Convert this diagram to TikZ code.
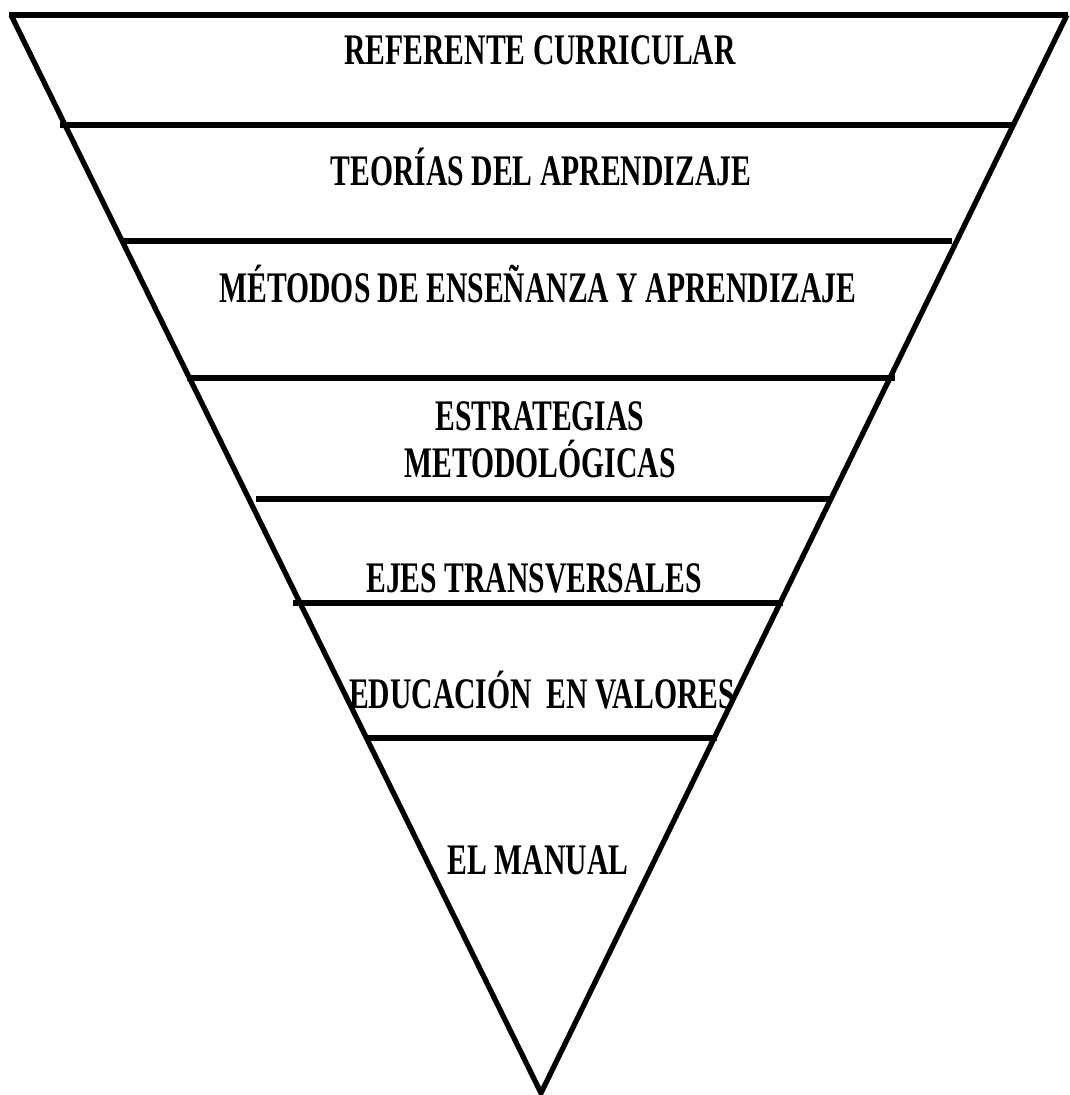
\documentclass[tikz,border=0pt]{standalone}
\usepackage{fontspec}
\setmainfont{Liberation Serif}
\newfontfamily\condserif[FakeStretch=0.68]{Liberation Serif}
\usepackage{tikz}

\tikzset{
	capa/.style={line width=1.7pt},
	borde/.style={line width=1.5pt, line join=miter},
	rotulo/.style={font=\condserif\bfseries\fontsize{12.4}{13.4}\selectfont, align=center, inner sep=0pt}
}

\begin{document}
\begin{tikzpicture}[x=0.01cm, y=-0.01cm]
				\useasboundingbox (0,0) rectangle (1069,1095);
				% contorno
				\draw[borde](11,15) -- (541,1093) -- (1067,15);
				\draw[capa](9,15) -- (1068,15);
				
				% separaciones
				\draw[capa](60,125) -- (1014,125);
				\draw[capa](122,241) -- (952,241);
				\draw[capa](187,378) -- (895,378);
				\draw[capa](256,499) -- (832,499);
				\draw[capa](293,603) -- (783,603);
				\draw[capa](366,738) -- (717,738);
				
				% textos
				\node[rotulo] (referente) at (540,50) {REFERENTE CURRICULAR};
				\node[rotulo] (teorias) at (541,167) {TEORÍAS DEL APRENDIZAJE};
				\node[rotulo] (metodos) at (538,284) {MÉTODOS DE ENSEÑANZA Y APRENDIZAJE};
				\node[rotulo] (estrategias) at (540,440) {ESTRATEGIAS\\METODOLÓGICAS};
				\node[rotulo] (ejes) at (534,578) {EJES TRANSVERSALES};
				\node[rotulo] (educacion) at (542,690) {EDUCACIÓN~ EN VALORES};
				\node[rotulo] (manual) at (538,860) {EL MANUAL};
\end{tikzpicture}
\end{document}
